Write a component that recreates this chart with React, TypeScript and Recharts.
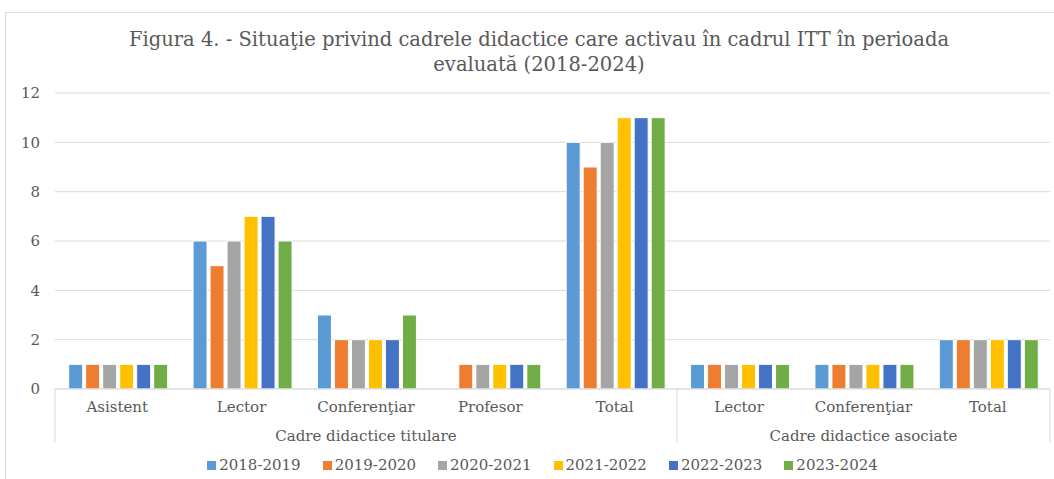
import React from 'react';
import { BarChart, Bar, XAxis, YAxis, CartesianGrid, Legend } from 'recharts';

const categories = ['Asistent', 'Lector', 'Conferenţiar', 'Profesor', 'Total', 'Lector', 'Conferenţiar', 'Total'];
const groups = ['Cadre didactice titulare', 'Cadre didactice asociate'];
const groupSizes = [5, 3];
const years = ['2018-2019', '2019-2020', '2020-2021', '2021-2022', '2022-2023', '2023-2024'];
const colors = ['#5B9BD5', '#ED7D31', '#A5A5A5', '#FFC000', '#4472C4', '#70AD47'];

const v2018 = [1, 6, 3, 0, 10, 1, 1, 2];
const v2019 = [1, 5, 2, 1, 9, 1, 1, 2];
const v2020 = [1, 6, 2, 1, 10, 1, 1, 2];
const v2021 = [1, 7, 2, 1, 11, 1, 1, 2];
const v2022 = [1, 7, 2, 1, 11, 1, 1, 2];
const v2023 = [1, 6, 3, 1, 11, 1, 1, 2];
const series = [v2018, v2019, v2020, v2021, v2022, v2023];
const yTicks = [0, 2, 4, 6, 8, 10, 12];

const data = categories.map((name, i) => {
  const row: any = { id: i, name };
  years.forEach((y, s) => { row[y] = series[s][i]; });
  return row;
});

const W = 1054;
const H = 479;
const M = { top: 93, right: 4, left: 5, bottom: 0 };
const Y_W = 50;
const BAND = (W - M.left - Y_W - M.right) / categories.length;
const FONT = '"DejaVu Serif", serif';
const GREY = '#595959';
const LINE = '#d9d9d9';

// start index of each group
const groupStarts = groupSizes.map((_, g) => groupSizes.slice(0, g).reduce((a, b) => a + b, 0));

const CategoryTick = (props: any) => {
  const { x, y, payload } = props;
  const i = payload.value as number;
  const g = groupStarts.findIndex((s, k) => i >= s && i < s + groupSizes[k]);
  const first = groupStarts[g] === i;
  const last = groupStarts[g] + groupSizes[g] - 1 === i;
  const left = x - BAND / 2;
  return (
    <g>
      <text x={x} y={y + 23} textAnchor="middle" fill={GREY} fontSize={15} fontFamily={FONT}>
        {categories[i]}
      </text>
      {first && (
        <>
          <line x1={left} y1={y} x2={left} y2={y + 54} stroke={LINE} />
          <text x={left + (groupSizes[g] * BAND) / 2} y={y + 52} textAnchor="middle" fill={GREY} fontSize={15} fontFamily={FONT}>
            {groups[g]}
          </text>
        </>
      )}
      {last && g === groups.length - 1 && (
        <line x1={x + BAND / 2} y1={y} x2={x + BAND / 2} y2={y + 54} stroke={LINE} />
      )}
    </g>
  );
};

const renderLegend = () => (
  <div style={{ display: 'flex', justifyContent: 'center', alignItems: 'center', height: 36, paddingTop: 8, paddingLeft: 30, boxSizing: 'border-box', fontFamily: FONT, fontSize: 15, color: GREY }}>
    {years.map((y, i) => (
      <span key={y} style={{ display: 'flex', alignItems: 'center', margin: '0 11px' }}>
        <span style={{ width: 9, height: 9, background: colors[i], marginRight: 3, display: 'inline-block' }} />
        {y}
      </span>
    ))}
  </div>
);

export default function App() {
  return (
    <div style={{ position: 'fixed', left: 0, top: 0, width: W, height: H, background: '#fff', overflow: 'hidden' }}>
      <div style={{ position: 'absolute', left: 5, top: 12, width: W, height: H, border: `1px solid ${LINE}` }} />
      <div style={{ position: 'absolute', left: 12, top: 27, width: W, textAlign: 'center', fontFamily: FONT, fontSize: 19.5, lineHeight: '25px', color: GREY }}>
        Figura 4. - Situaţie privind cadrele didactice care activau în cadrul ITT în perioada
        <br />
        evaluată (2018-2024)
      </div>
      <div style={{ position: 'absolute', left: 0, top: 0 }}>
        <BarChart width={W} height={H} data={data} margin={M} barCategoryGap="11%" barGap={3}>
          <CartesianGrid vertical={false} stroke={LINE} />
          <XAxis
            dataKey="id"
            height={54}
            interval={0}
            tickSize={0}
            tickMargin={0}
            tickLine={false}
            axisLine={{ stroke: LINE }}
            tick={<CategoryTick />}
          />
          <YAxis
            width={Y_W}
            domain={[0, 12]}
            ticks={yTicks}
            axisLine={false}
            tickLine={false}
            tickSize={0}
            tickMargin={15}
            tick={{ fill: GREY, fontSize: 15, fontFamily: FONT }}
          />
          <Legend verticalAlign="bottom" height={36} content={renderLegend} />
          {years.map((y, i) => (
            <Bar key={y} dataKey={y} fill={colors[i]} stroke="#fff" strokeWidth={1} isAnimationActive={false} />
          ))}
        </BarChart>
      </div>
    </div>
  );
}
